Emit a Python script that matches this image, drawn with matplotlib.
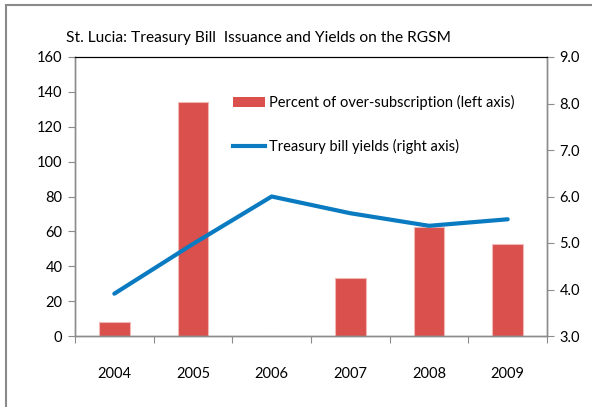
import matplotlib
matplotlib.use("Agg")
import matplotlib.pyplot as plt
import numpy as np
from matplotlib.patches import Rectangle
from matplotlib.lines import Line2D

years = ["2004", "2005", "2006", "2007", "2008", "2009"]
oversubscription = [8, 134, 0, 33, 62.5, 52.5]
yields = [3.91, 4.98, 6.0, 5.64, 5.37, 5.51]

left_ticks = [0, 20, 40, 60, 80, 100, 120, 140, 160]
right_ticks = [3.0, 4.0, 5.0, 6.0, 7.0, 8.0, 9.0]

bar_color = "#D9504C"
line_color = "#0A7BC1"
spine_gray = "#8C8C8C"

plt.rcParams["font.family"] = ["Lato", "DejaVu Sans"]

fig = plt.figure(figsize=(5.92, 4.07), dpi=100)
ax = fig.add_axes([75 / 592, 1 - 336 / 407, (547 - 75) / 592, (336 - 57) / 407])
ax2 = ax.twinx()

x = np.arange(len(years))
bars = ax.bar(x, oversubscription, width=0.39, color=bar_color,
              edgecolor="#F2B8B5", linewidth=0.8, zorder=2)
ax.set_xlim(-0.5, len(years) - 0.5)
ax.set_ylim(0, 160)
ax.set_yticks(left_ticks)
ax.set_yticklabels([str(t) for t in left_ticks])

ax2.plot(x, yields, color=line_color, lw=3.0, solid_capstyle="round", zorder=3)
ax2.set_ylim(3.0, 9.0)
ax2.set_yticks(right_ticks)
ax2.set_yticklabels([f"{t:.1f}" for t in right_ticks])

# category ticks sit on the boundaries, labels centred in each slot
ax.set_xticks(np.arange(-0.5, len(years), 1.0))
ax.set_xticklabels([])
ax.set_xticks(x, minor=True)
ax.set_xticklabels(years, minor=True)
ax.tick_params(axis="x", which="minor", length=0, pad=22, labelsize=10.5)
ax.tick_params(axis="x", which="major", length=5, color=spine_gray, direction="out")

ax.tick_params(axis="y", length=5, color=spine_gray, direction="out", labelsize=10.5, pad=4)
ax2.tick_params(axis="y", length=5, color=spine_gray, direction="out", labelsize=10.5, pad=4)

for a in (ax, ax2):
    for side in ("left", "right", "bottom"):
        a.spines[side].set_color(spine_gray)
        a.spines[side].set_linewidth(1.0)
    a.spines["top"].set_color("black")
    a.spines["top"].set_linewidth(0.8)
ax.set_zorder(1)
ax2.set_zorder(2)
ax.patch.set_visible(False)

handles = [Rectangle((0, 0), 1, 1, facecolor=bar_color, edgecolor="none"),
           Line2D([0], [0], color=line_color, lw=3.0)]
labels = ["Percent of over-subscription (left axis)", "Treasury bill yields (right axis)"]
fig.legend(handles, labels, loc="upper left", bbox_to_anchor=(233 / 592, 1 - 95 / 407),
           frameon=False, fontsize=10.5, handlelength=2.2, handletextpad=0.3,
           labelspacing=2.0, borderpad=0, borderaxespad=0)

fig.text(258 / 592, 1 - 38 / 407, "St. Lucia: Treasury Bill  Issuance and Yields on the RGSM",
         ha="center", va="center", fontsize=11.2)

# outer chart frame
fig.patches.append(Rectangle((6 / 592, -0.1), 1.2, 1 - 5 / 407 + 0.1, transform=fig.transFigure,
                             fill=False, edgecolor="#8A8A8A", linewidth=1.5))

fig.savefig("out.png", dpi=100)
